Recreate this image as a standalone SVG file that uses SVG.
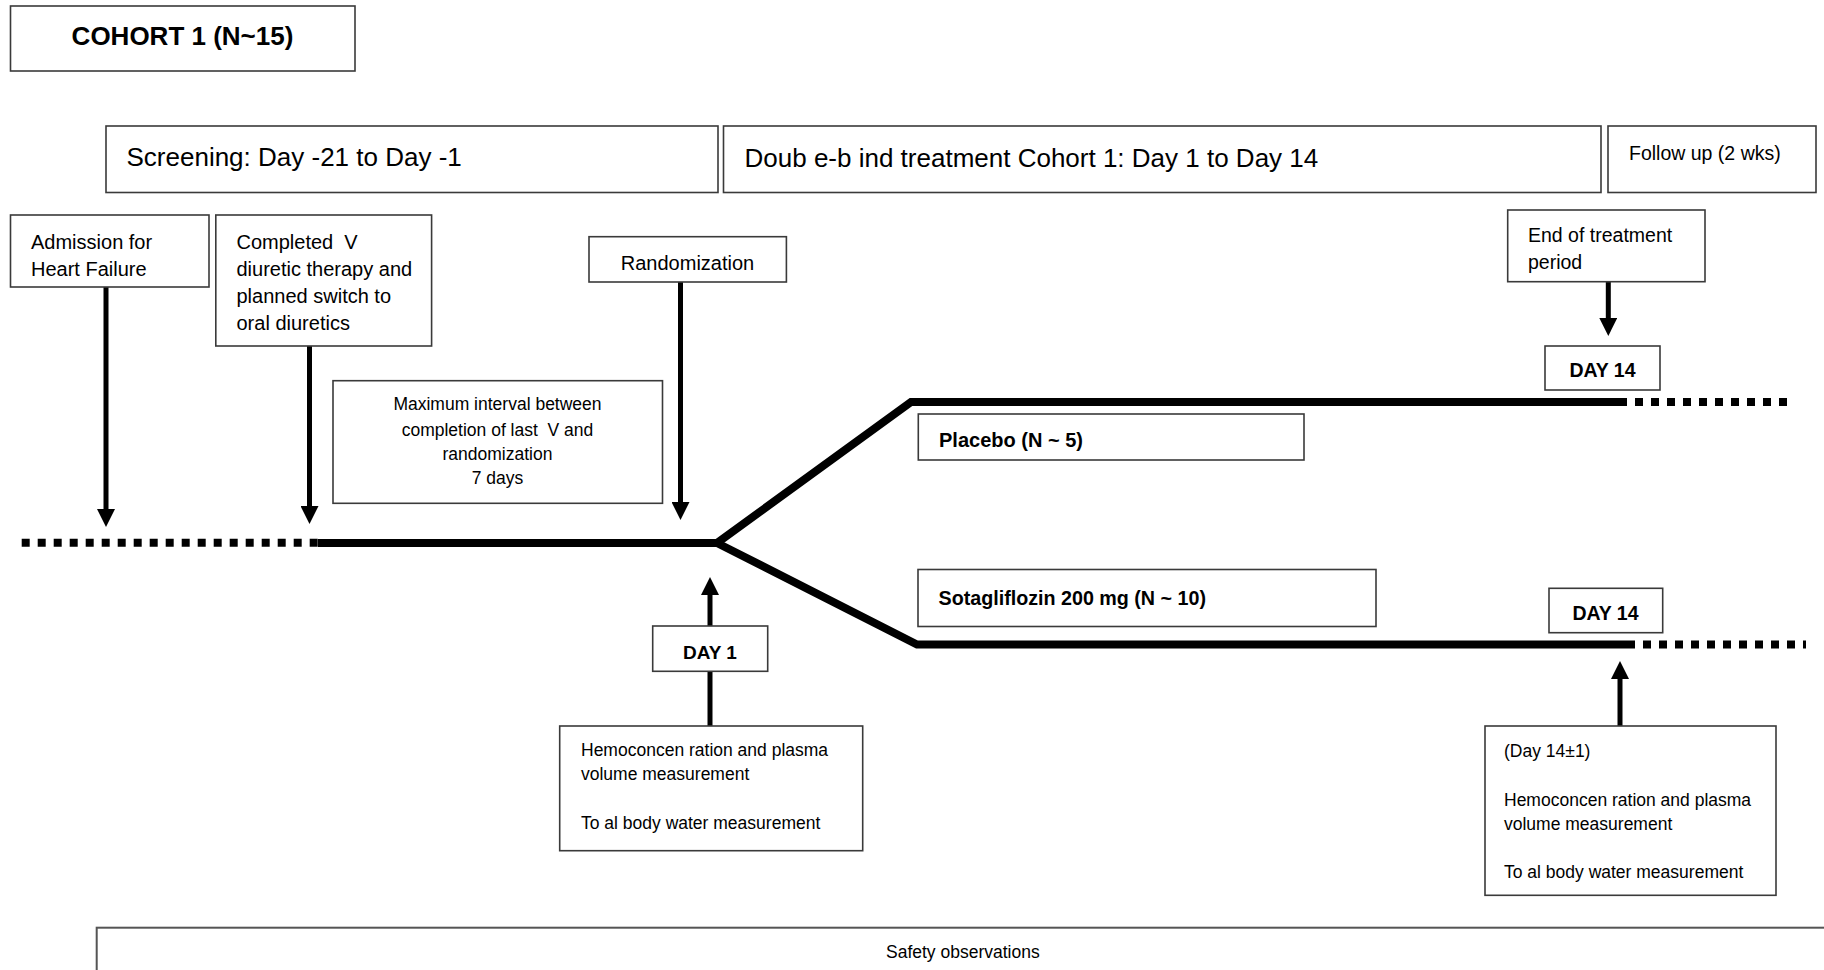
<svg xmlns="http://www.w3.org/2000/svg" width="1824" height="970" viewBox="0 0 1824 970">
  <defs>
    <marker id="ah" markerUnits="userSpaceOnUse" markerWidth="18" markerHeight="18" refX="0" refY="9" orient="auto">
      <path d="M0,0 L18,9 L0,18 z" fill="#000"/>
    </marker>
    <style>
      .box{fill:#fff;stroke:#3a3a3a;stroke-width:1.6}
      text{font-family:"Liberation Sans",Arial,sans-serif;fill:#000}
      .big{font-size:26px}
      .md{font-size:20px}
      .sm{font-size:17.5px}
      .b{font-weight:bold}
      .c{text-anchor:middle}
      .pre{white-space:pre}
      .arr{stroke:#000;stroke-width:5;fill:none;marker-end:url(#ah)}
      .ln{stroke:#000;stroke-width:5;fill:none}
      .main{stroke:#000;stroke-width:8;fill:none;stroke-linejoin:miter}
      .dot{stroke:#000;stroke-width:8;fill:none;stroke-dasharray:8 8}
    </style>
  </defs>
  <rect width="1824" height="970" fill="#fff"/>

  <g id="connectors">
    <line class="dot" x1="21.7" y1="542.7" x2="318" y2="542.7"/>
    <polyline class="main" points="318,543 717,543 911,402 1619,402"/>
    <polyline class="main" points="717,543 917,644.5 1627,644.5"/>
    <line class="dot" x1="1619" y1="402" x2="1788" y2="402"/>
    <line class="dot" x1="1627" y1="644.5" x2="1806" y2="644.5"/>
    <line class="arr" x1="106" y1="287" x2="106" y2="509"/>
    <line class="arr" x1="309.5" y1="346" x2="309.5" y2="506"/>
    <line class="arr" x1="680.5" y1="282" x2="680.5" y2="502"/>
    <line class="arr" x1="1608.3" y1="282" x2="1608.3" y2="318"/>
    <line class="arr" x1="710" y1="626" x2="710" y2="595"/>
    <line class="ln" x1="710" y1="671" x2="710" y2="726"/>
    <line class="arr" x1="1620" y1="726" x2="1620" y2="679"/>
  </g>

  <g id="cohort">
    <rect class="box" x="10.5" y="6" width="344.5" height="65"/>
    <text class="big b c" x="182.5" y="44.5">COHORT 1 (N~15)</text>
  </g>
  <g id="screening">
    <rect class="box" x="106" y="126" width="612" height="66.5"/>
    <text class="big" x="126.5" y="166">Screening: Day -21 to Day -1</text>
  </g>
  <g id="doubleblind">
    <rect class="box" x="723.5" y="126" width="877.5" height="66.5"/>
    <text class="big" x="744.5" y="166.5">Doub e-b ind treatment Cohort 1: Day 1 to Day 14</text>
  </g>
  <g id="followup">
    <rect class="box" x="1608" y="126" width="208" height="66.5"/>
    <text x="1629" y="160" style="font-size:19.5px">Follow up (2 wks)</text>
  </g>
  <g id="admission">
    <rect class="box" x="10.5" y="215" width="198.5" height="72"/>
    <text class="md" x="31" y="249">Admission for</text>
    <text class="md" x="31" y="276">Heart Failure</text>
  </g>
  <g id="completed">
    <rect class="box" x="215.8" y="215" width="215.8" height="131"/>
    <text class="md pre" x="236.5" y="249">Completed  V</text>
    <text class="md" x="236.5" y="276">diuretic therapy and</text>
    <text class="md" x="236.5" y="303">planned switch to</text>
    <text class="md" x="236.5" y="330">oral diuretics</text>
  </g>
  <g id="randomization">
    <rect class="box" x="589" y="236.7" width="197.4" height="45.3"/>
    <text class="md c" x="687.5" y="270">Randomization</text>
  </g>
  <g id="maxinterval">
    <rect class="box" x="333" y="380.7" width="329.5" height="122.6"/>
    <text class="sm c" x="497.5" y="410">Maximum interval between</text>
    <text class="sm c pre" x="497.5" y="436">completion of last  V and</text>
    <text class="sm c" x="497.5" y="459.5">randomization</text>
    <text class="sm c" x="497.5" y="483.5">7 days</text>
  </g>
  <g id="endtreatment">
    <rect class="box" x="1507.7" y="210" width="197.3" height="71.7"/>
    <text x="1528" y="242" style="font-size:19.5px">End of treatment</text>
    <text x="1528" y="269" style="font-size:19.5px">period</text>
  </g>
  <g id="day14top">
    <rect class="box" x="1545" y="346" width="115" height="44"/>
    <text class="b c" x="1602.5" y="377" style="font-size:19.5px">DAY 14</text>
  </g>
  <g id="placebo">
    <rect class="box" x="918.3" y="414" width="385.7" height="46"/>
    <text class="md b" x="939" y="447">Placebo (N ~ 5)</text>
  </g>
  <g id="sotagliflozin">
    <rect class="box" x="918" y="569.5" width="458" height="57"/>
    <text class="b" x="938.5" y="604.5" style="font-size:19.7px">Sotagliflozin 200 mg (N ~ 10)</text>
  </g>
  <g id="day14bottom">
    <rect class="box" x="1549" y="588.3" width="113.7" height="44.4"/>
    <text class="b c" x="1605.5" y="620" style="font-size:19.5px">DAY 14</text>
  </g>
  <g id="day1">
    <rect class="box" x="652.7" y="626" width="115" height="45.3"/>
    <text class="b c" x="710" y="659" style="font-size:19px">DAY 1</text>
  </g>
  <g id="measure1">
    <rect class="box" x="559.7" y="726" width="303" height="124.7"/>
    <text class="sm" x="581" y="756">Hemoconcen ration and plasma</text>
    <text class="sm" x="581" y="780">volume measurement</text>
    <text class="sm" x="581" y="829">To al body water measurement</text>
  </g>
  <g id="measure14">
    <rect class="box" x="1485" y="726" width="291" height="169.3"/>
    <text class="sm" x="1504" y="757">(Day 14±1)</text>
    <text class="sm" x="1504" y="805.5">Hemoconcen ration and plasma</text>
    <text class="sm" x="1504" y="829.5">volume measurement</text>
    <text class="sm" x="1504" y="878">To al body water measurement</text>
  </g>
  <g id="safety">
    <rect class="box" x="96.7" y="927.7" width="1760" height="80" style="stroke:#555;stroke-width:2"/>
    <text class="sm" x="886" y="958">Safety observations</text>
  </g>
</svg>
